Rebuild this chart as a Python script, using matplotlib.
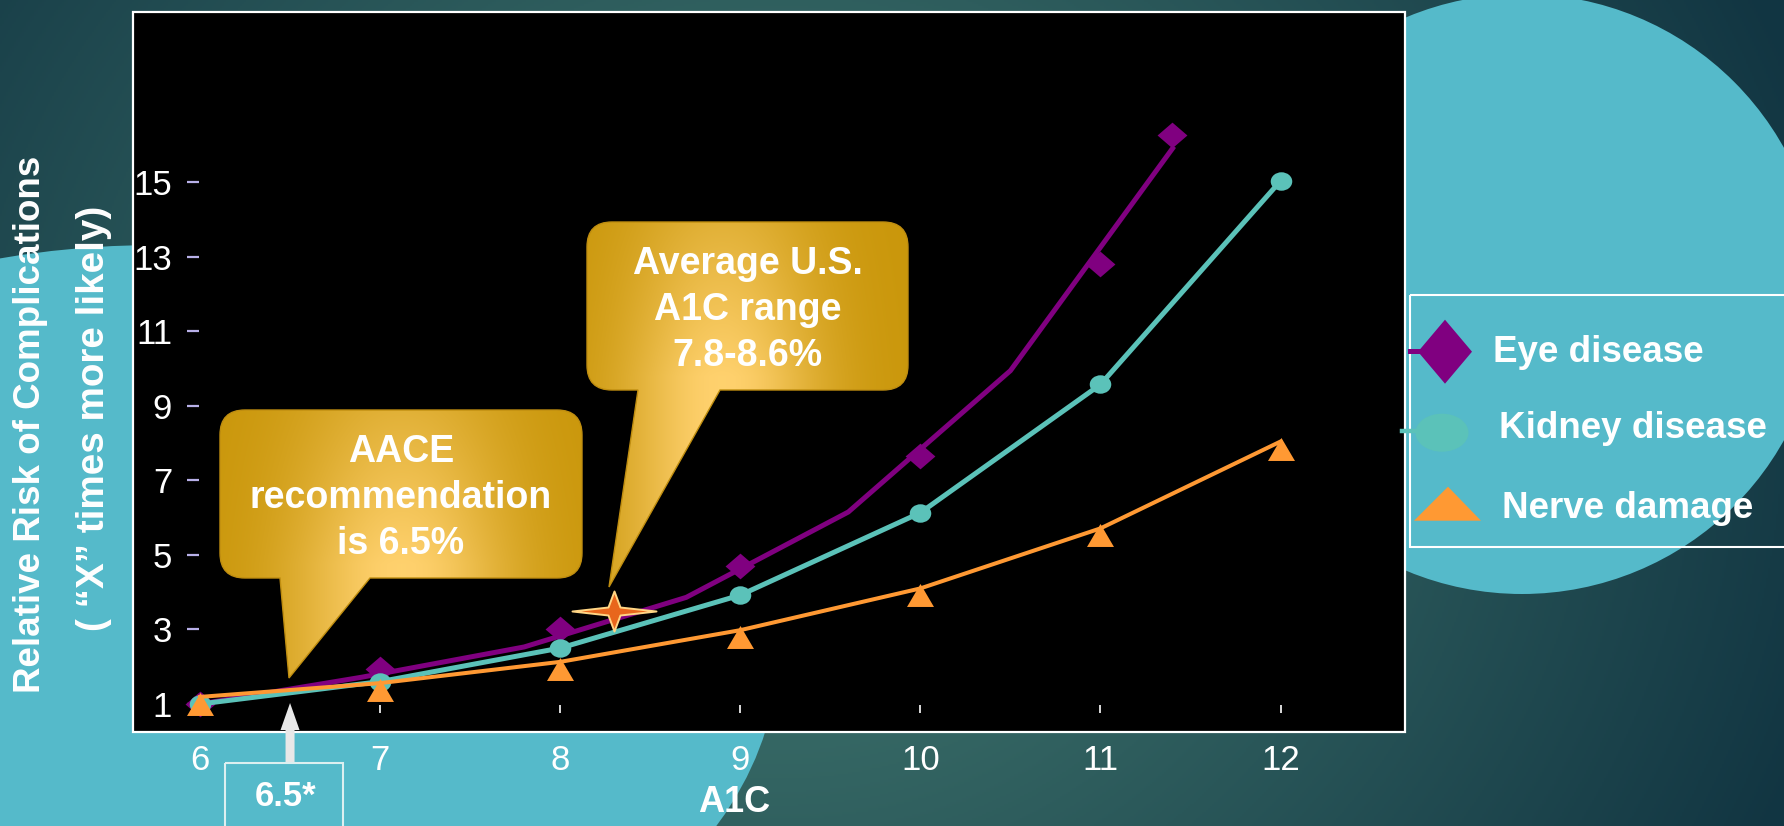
import numpy as np
import matplotlib
matplotlib.use("Agg")
import matplotlib.pyplot as plt
from matplotlib.path import Path
from matplotlib.patches import PathPatch, Rectangle, Ellipse, Circle, Polygon
from matplotlib.transforms import Affine2D

# ---------------- data ----------------
a1c = [6, 7, 8, 9, 10, 11, 12]
x_ticks = [6, 7, 8, 9, 10, 11, 12]
y_ticks = [1, 3, 5, 7, 9, 11, 13, 15]

eye_line_x = [6, 6.9, 7.8, 8.7, 9.6, 10.5, 11.4]
eye_line_y = [1.0, 1.72, 2.53, 3.86, 6.15, 9.94, 15.9]
eye_marker_x = [6, 7, 8, 9, 10, 11, 11.4]
eye_marker_y = [1.0, 1.95, 3.0, 4.7, 7.65, 12.8, 16.25]
kidney = [1.0, 1.6, 2.5, 3.92, 6.13, 9.57, 15.03]
nerve = [1.19, 1.56, 2.13, 2.98, 4.10, 5.71, 8.04]

series_labels = ["Eye disease", "Kidney disease", "Nerve damage"]
star_x, star_y = 8.3, 3.5
aace_x = 6.5

x_label = "A1C"
y_label_1 = "Relative Risk of Complications"
y_label_2 = "( \u201cX\u201d times more likely)"
aace_text = "AACE\nrecommendation\nis 6.5%"
avg_text = "Average U.S.\nA1C range\n7.8-8.6%"
aace_box_text = "6.5*"

# ---------------- style ----------------
plt.rcParams["font.family"] = ["Liberation Sans", "DejaVu Sans"]
PURPLE = "#800080"
TEAL = "#5BC2B9"
ORANGE = "#FF9933"
CYAN = "#55BACA"

W, H = 1784, 826
fig = plt.figure(figsize=(W / 100, H / 100), dpi=100)

# background axes (pixel coordinates, y down)
bg = fig.add_axes([0, 0, 1, 1], zorder=0)
bg.set_xlim(0, W)
bg.set_ylim(H, 0)
bg.axis("off")
yy, xx = np.mgrid[0:H:2, 0:W:2]
d = np.hypot(xx - 780, (yy - 420) / 0.9)
t = np.clip(d / 1080, 0, 1) ** 1.05
light = np.array([0.27, 0.49, 0.45])
dark = np.array([0.07, 0.21, 0.26])
img = light * (1 - t)[..., None] + dark * t[..., None]
bg.imshow(img, extent=(0, W, H, 0), origin="upper", aspect="auto", zorder=0)
bg.add_patch(Ellipse((158, 650), 1240, 810, color=CYAN, lw=0, zorder=1))
bg.add_patch(Circle((1522, 294), 300, color=CYAN, lw=0, zorder=1))
bg.set_xlim(0, W)
bg.set_ylim(H, 0)

# main axes
L, R, T, B = 133, 1405, 12, 732
ax = fig.add_axes([L / W, 1 - B / H, (R - L) / W, (B - T) / H], zorder=1)
ax.set_facecolor("black")
ax.set_xlim(5.628, 12.691)
ax.set_ylim(0.249, 19.56)

for s in ax.spines.values():
    s.set_visible(False)
ax.spines["left"].set_position(("axes", (199 - L) / (R - L)))
ax.spines["bottom"].set_position(("data", 0.758))
ax.add_patch(Rectangle((0, 0), 1, 1, transform=ax.transAxes, fill=False,
                       ec="white", lw=1.6, clip_on=False, zorder=10))

ax.set_yticks(y_ticks)
ax.set_yticklabels([str(v) for v in y_ticks])
ax.tick_params(axis="y", direction="out", length=8.6, width=1.6,
               color="#B8B0E8", pad=10.8, labelsize=25, labelcolor="white")
ax.set_xticks(x_ticks)
ax.set_xticklabels([str(v) for v in x_ticks])
ax.tick_params(axis="x", direction="in", length=5.8, width=1.2,
               color="white", pad=22, labelsize=25, labelcolor="white")

# custom markers
diamond = Path([(0, 12.5), (14.5, 0), (0, -12.5), (-14.5, 0), (0, 12.5)],
               [Path.MOVETO, Path.LINETO, Path.LINETO, Path.LINETO, Path.CLOSEPOLY])
ellipse_m = Path.unit_circle().transformed(Affine2D().scale(10.5, 9))
tri = Path([(0, 4.5), (13.5, -18.5), (-13.5, -18.5), (0, 4.5)],
           [Path.MOVETO, Path.LINETO, Path.LINETO, Path.CLOSEPOLY])
star = Path([(42, 0), (6, 4), (0, 20), (-6, 4), (-42, 0), (-6, -4), (0, -20), (6, -4), (42, 0)],
            [Path.MOVETO] + [Path.LINETO] * 7 + [Path.CLOSEPOLY])

ax.plot(eye_line_x, eye_line_y, color=PURPLE, lw=3.6, zorder=3,
        solid_joinstyle="miter")
ax.plot(eye_marker_x, eye_marker_y, ls="none", marker=diamond, ms=21.5,
        mfc=PURPLE, mec="none", zorder=3.1)
ax.plot(a1c, kidney, color=TEAL, lw=3.6, marker=ellipse_m, ms=15.5,
        mfc=TEAL, mec="none", zorder=4)
ax.plot(a1c, nerve, color=ORANGE, lw=2.9, zorder=5)
ax.plot(a1c, nerve, ls="none", marker=tri, ms=26.6, mfc=ORANGE, mec="none",
        zorder=5.1)
ax.plot([star_x], [star_y], ls="none", marker=star, ms=60.5, mfc="#E8661C",
        mec="#FFD584", mew=1.4, zorder=6)

# overlay axes in pixel coordinates
ov = fig.add_axes([0, 0, 1, 1], zorder=2)
ov.set_xlim(0, W)
ov.set_ylim(H, 0)
ov.axis("off")
ov.patch.set_alpha(0)


def callout_path(x0, y0, x1, y1, r, tb0, tb1, tip):
    v, c = [], []
    def M(p):
        v.append(p); c.append(Path.MOVETO)
    def Ln(p):
        v.append(p); c.append(Path.LINETO)
    def Q(cp, p):
        v.extend([cp, p]); c.extend([Path.CURVE3, Path.CURVE3])
    M((x0 + r, y0)); Ln((x1 - r, y0)); Q((x1, y0), (x1, y0 + r))
    Ln((x1, y1 - r)); Q((x1, y1), (x1 - r, y1))
    Ln((tb1, y1)); Ln(tip); Ln((tb0, y1))
    Ln((x0 + r, y1)); Q((x0, y1), (x0, y1 - r))
    Ln((x0, y0 + r)); Q((x0, y0), (x0 + r, y0))
    v.append((x0 + r, y0)); c.append(Path.CLOSEPOLY)
    return Path(v, c)


def callout(x0, y0, x1, y1, tb0, tb1, tip, text, peak=0.45):
    p = callout_path(x0, y0, x1, y1, 25, tb0, tb1, tip)
    patch = PathPatch(p, fc="none", ec="#C08E10", lw=1.0, zorder=3)
    ov.add_patch(patch)
    gy, gx = np.mgrid[y0:tip[1]:1.0, x0:x1:1.0]
    w, h = x1 - x0, y1 - y0
    cx = x0 + peak * w
    tt = np.exp(-((gx - cx) / (0.30 * w)) ** 2) * np.clip(0.45 + 0.6 * (gy - y0) / h, 0, 1)
    dk = np.array([0.79, 0.59, 0.04])
    lt = np.array([1.0, 0.82, 0.43])
    im = dk * (1 - tt)[..., None] + lt * tt[..., None]
    imh = ov.imshow(im, extent=(x0, x1, tip[1], y0), origin="upper",
                    aspect="auto", zorder=2)
    imh.set_clip_path(patch)
    ov.text((x0 + x1) / 2, (y0 + y1) / 2 + 4, text, ha="center", va="center",
            fontsize=27, fontweight="bold", color="white", linespacing=1.36,
            zorder=4)


callout(220, 410, 582, 578, 280, 370, (289, 678), aace_text, peak=0.5)
callout(587, 222, 908, 390, 638, 720, (609, 587), avg_text, peak=0.42)

# arrow + 6.5* box tied to data x
fig.canvas.draw()
px = ax.transData.transform((aace_x, 1))[0]
ov.add_patch(Polygon([(px - 4.5, 763), (px - 4.5, 730), (px - 9.5, 730), (px, 703),
                      (px + 9.5, 730), (px + 4.5, 730), (px + 4.5, 763)],
                     closed=True, fc="#E8E8E8", ec="none", zorder=5))
ov.add_patch(Rectangle((225, 763), 118, 80, fill=False, ec="#DDEFF0", lw=1.5,
                       zorder=5))
ov.text(286, 797, aace_box_text, ha="center", va="center", fontsize=25,
        fontweight="bold", color="white", zorder=6)

# axis labels
ov.text(31, 424, y_label_1, rotation=90, ha="center", va="center", fontsize=26.5,
        fontweight="bold", color="white")
ov.text(94, 418, y_label_2, rotation=90, ha="center", va="center", fontsize=27.8,
        fontweight="bold", color="white")
ov.text(734, 803, x_label, ha="center", va="center", fontsize=26,
        fontweight="bold", color="white")

# legend
ov.add_patch(Rectangle((1410, 295), 420, 252, fill=False, ec="white", lw=1.5,
                       zorder=3))
ov.plot([1410, 1425], [350.5, 350.5], color=PURPLE, lw=3.6, zorder=4)
ov.add_patch(Polygon([(1445, 319.7), (1472, 351.7), (1445, 383.7), (1418, 351.7)],
                     closed=True, fc=PURPLE, ec="none", zorder=5))
ov.plot([1402, 1420], [431, 431], color=TEAL, lw=3.2, zorder=4)
ov.add_patch(Ellipse((1442, 432.7), 53, 38, fc=TEAL, ec="none", zorder=5))
ov.add_patch(Polygon([(1448, 486.7), (1481, 520.7), (1414, 520.7)], closed=True,
                     fc=ORANGE, ec="none", zorder=5))
leg_y = [353, 428, 509]
leg_x = [1493, 1499, 1502]
for lx, ly, lab in zip(leg_x, leg_y, series_labels):
    ov.text(lx, ly, lab, ha="left", va="center", fontsize=26.5,
            fontweight="bold", color="white", zorder=6)

ov.set_xlim(0, W)
ov.set_ylim(H, 0)
fig.savefig("out.png", dpi=100)
